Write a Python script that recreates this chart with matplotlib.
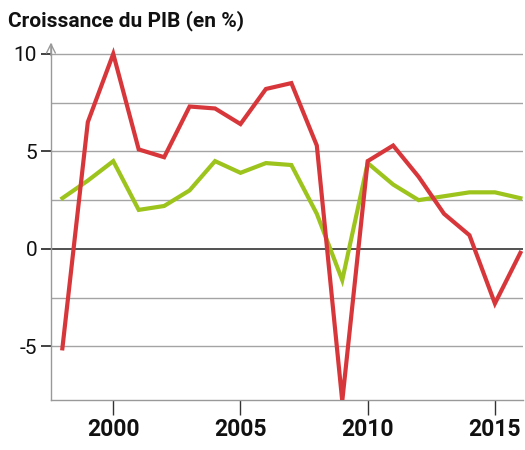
import numpy as np
import matplotlib
matplotlib.use('Agg')
import matplotlib.pyplot as plt

years = list(range(1998, 2017))
red_growth = [-5.1, 6.5, 10.0, 5.1, 4.7, 7.3, 7.2, 6.4, 8.2, 8.5, 5.3, -7.8,
              4.5, 5.3, 3.7, 1.8, 0.7, -2.8, -0.2]
green_growth = [2.6, 3.5, 4.5, 2.0, 2.2, 3.0, 4.5, 3.9, 4.4, 4.3, 1.8, -1.6,
                4.4, 3.3, 2.5, 2.7, 2.9, 2.9, 2.6]
x_ticks = [2000, 2005, 2010, 2015]
y_ticks = [10, 5, 0, -5]
y_ticklabels = ['10', '5', '0', '-5']
grid_levels = [10, 7.5, 5, 2.5, -2.5, -5]
title = "Croissance du PIB (en %)"

plt.rcParams['font.family'] = ['Roboto', 'DejaVu Sans']

fig = plt.figure(figsize=(5.25, 4.5), dpi=100)
ax = fig.add_axes([0.097, 0.111, 0.899, 0.791])

for level in grid_levels:
    ax.axhline(level, color='#a4a4a4', lw=1.0, zorder=1)
ax.axhline(0, color='#222222', lw=1.1, zorder=1)

ax.plot(years, green_growth, color='#9dc41c', lw=3.0, solid_joinstyle='miter', zorder=3)
ax.plot(years, red_growth, color='#d7373a', lw=3.0, solid_joinstyle='miter', zorder=4)

ax.set_xlim(1997.55, 2016.1)
ax.set_ylim(-7.75, 10.5)

for side in ['top', 'right']:
    ax.spines[side].set_visible(False)
ax.spines['left'].set_color('#999999')
ax.spines['bottom'].set_color('#999999')
ax.spines['left'].set_linewidth(1.0)
ax.spines['bottom'].set_linewidth(1.0)

# open arrow on top of the y axis
ax.annotate('', xy=(0, 1.012), xycoords='axes fraction', xytext=(0, 0.96),
            arrowprops=dict(arrowstyle='->', color='#999999', lw=1.0,
                            mutation_scale=16))

ax.set_xticks(x_ticks)
ax.set_xticklabels([str(t) for t in x_ticks], fontsize=16.5, fontweight='bold',
                   color='#111111')
ax.tick_params(axis='x', length=11, width=1.0, color='#333333', pad=2)

ax.set_yticks(y_ticks)
ax.set_yticklabels(y_ticklabels, fontsize=15, color='#111111')
ax.tick_params(axis='y', length=7, width=1.2, color='#222222', pad=3)

fig.text(0.015, 0.953, title, fontsize=15, fontweight='bold',
         color='#111111', va='center', ha='left')

fig.savefig('out.png', dpi=100)
